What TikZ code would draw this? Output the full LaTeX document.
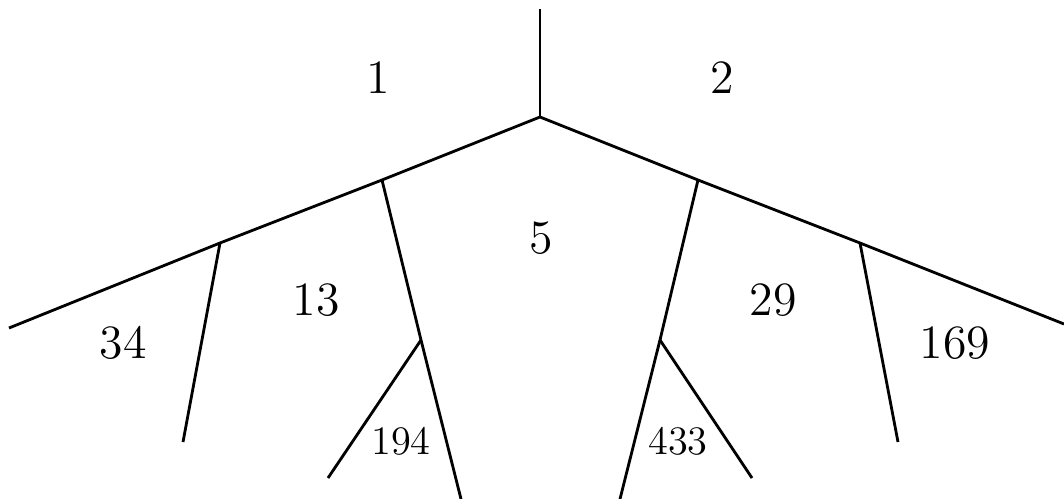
\documentclass[tikz,border=0pt]{standalone}
\usepackage{tikz}

\begin{document}
\begin{tikzpicture}[x=0.1mm,y=-0.1mm,line width=0.8pt]
  \tikzset{region/.style={font=\fontsize{13.6}{16}\selectfont},
           small/.style={font=\fontsize{11.5}{14}\selectfont}}
  \useasboundingbox (0,0) rectangle (1064,499);
  % junctions and ends
  \coordinate (top) at (540,9);
  \coordinate (o) at (540,117);
  \coordinate (wl) at (9,328);
  \coordinate (wr) at (1064,324);
  \coordinate (l1) at (382,180);
  \coordinate (l2) at (220,243);
  \coordinate (r1) at (698,180);
  \coordinate (r2) at (860,243);
  \coordinate (lm) at (421,340);
  \coordinate (rm) at (660,340);
  \coordinate (lb) at (461,499);
  \coordinate (rb) at (620,499);
  \coordinate (l2e) at (183,442);
  \coordinate (r2e) at (898,442);
  \coordinate (lme) at (328,478);
  \coordinate (rme) at (752,478);
  % edges
  \draw (top) -- (o);
  \draw (wl) -- (l2) -- (l1) -- (o) -- (r1) -- (r2) -- (wr);
  \draw (l1) -- (lm) -- (lb);
  \draw (r1) -- (rm) -- (rb);
  \draw (l2) -- (l2e);
  \draw (r2) -- (r2e);
  \draw (lm) -- (lme);
  \draw (rm) -- (rme);
  % labels
  \foreach \n/\p/\t in {a/{378,78}/1, b/{722,78}/2, c/{541,238}/5, d/{316,300}/13,
                        e/{123,343}/34, f/{773,300}/29, g/{955,343}/169}
    \node[region] (\n) at (\p) {\t};
  \node[small] (h) at (401,441) {194};
  \node[small] (i) at (678,441) {433};
\end{tikzpicture}
\end{document}
